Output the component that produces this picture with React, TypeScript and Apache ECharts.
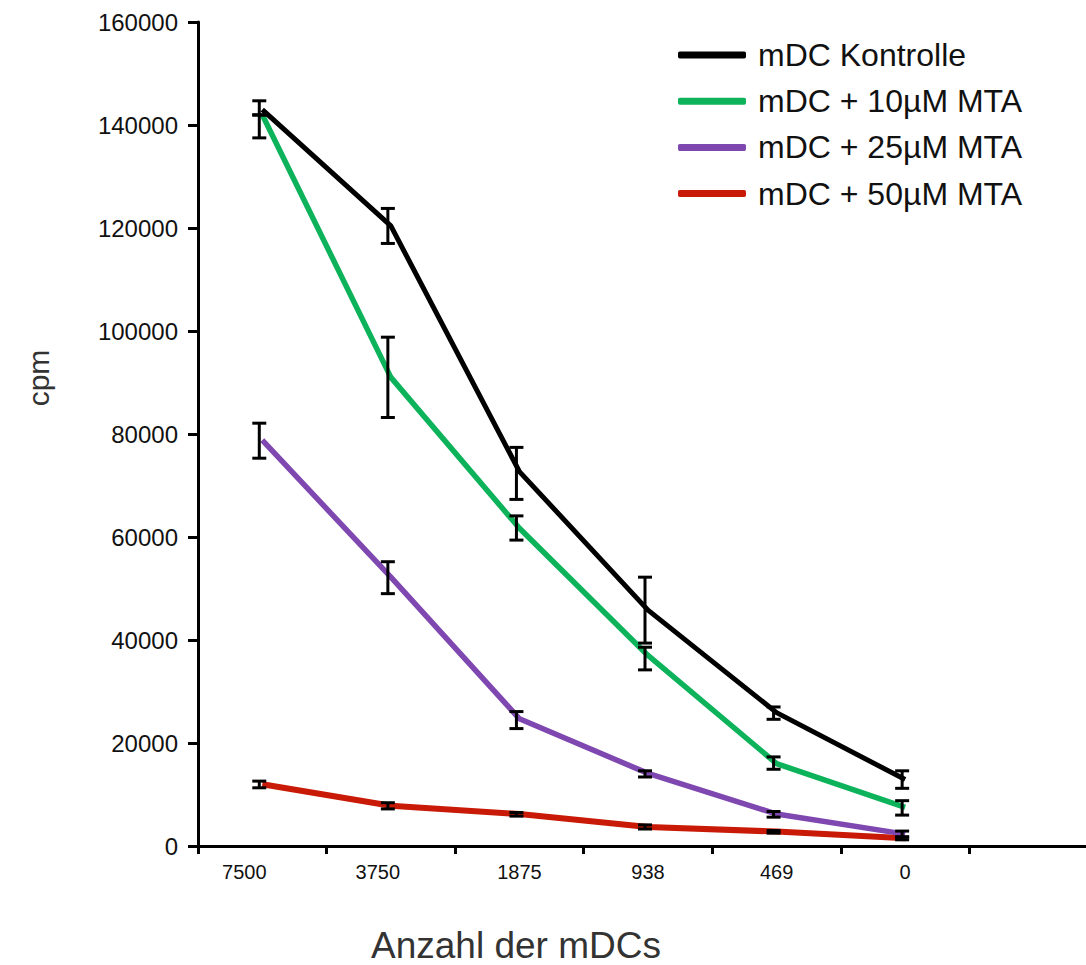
import React, { useEffect, useRef } from "react";
import * as echarts from "echarts";

const categories = ["7500", "3750", "1875", "938", "469", "0", ""];
const seriesNames = ["mDC Kontrolle", "mDC + 10µM MTA", "mDC + 25µM MTA", "mDC + 50µM MTA"];
const seriesColors = ["#000000", "#0db35a", "#7f47b0", "#c81a06"];
const seriesWidths = [5, 5.5, 5.5, 6];

const kontrolle = [143000, 120400, 72700, 45800, 25900, 12900];
const mta10 = [142000, 91000, 61700, 37000, 16000, 7500];
const mta25 = [78800, 52200, 24700, 14100, 6200, 2300];
const mta50 = [12000, 7800, 6200, 3700, 2800, 1500];

const kontrolleLow = [141900, 117000, 67300, 39400, 24600, 11200];
const kontrolleHigh = [144700, 123800, 77400, 52200, 27000, 14600];
const mta10Low = [137500, 83200, 59400, 34200, 14900, 6000];
const mta10High = [142000, 98800, 64100, 38600, 17300, 8800];
const mta25Low = [75300, 49000, 22800, 13400, 5600, 1700];
const mta25High = [82100, 55200, 26100, 14600, 6700, 2900];
const mta50Low = [11300, 7200, 5800, 3300, 2500, 1200];
const mta50High = [12600, 8400, 6500, 4100, 3000, 1800];

const yTicks = [0, 20000, 40000, 60000, 80000, 100000, 120000, 140000, 160000];

const xTitle = "Anzahl der mDCs";
const yTitle = "cpm";

const FONT = "Liberation Sans, Arial, sans-serif";

export default function App() {
  const ref = useRef<HTMLDivElement>(null);
  useEffect(() => {
    if (!ref.current) return;
    const chart = echarts.init(ref.current, null, { renderer: "svg" });
    const values = [kontrolle, mta10, mta25, mta50];
    const lows = [kontrolleLow, mta10Low, mta25Low, mta50Low];
    const highs = [kontrolleHigh, mta10High, mta25High, mta50High];

    const errData: number[][] = [];
    lows.forEach((lo, s) => {
      lo.forEach((l, i) => errData.push([i, l, highs[s][i]]));
    });

    const lineSeries = values.map((v, s) => ({
      name: seriesNames[s],
      type: "line",
      data: v,
      symbol: "none",
      color: seriesColors[s],
      lineStyle: { width: seriesWidths[s], color: seriesColors[s] },
      z: 10 - s,
    }));

    const lblBase = { fontFamily: FONT, fontSize: 20, color: "#111111" };

    chart.setOption({
      animation: false,
      backgroundColor: "#ffffff",
      grid: { left: 198, right: 0, top: 22, bottom: 119 },
      legend: {
        data: seriesNames,
        orient: "vertical",
        left: 678,
        top: 39,
        padding: 0,
        icon: "roundRect",
        itemWidth: 68,
        itemHeight: 7,
        itemGap: 14.2,
        textStyle: {
          fontFamily: FONT,
          fontSize: 32,
          lineHeight: 30,
          color: "#111111",
          padding: [0, 0, 0, 7],
        },
      },
      graphic: [
        {
          type: "text",
          x: 516,
          y: 945,
          style: {
            text: xTitle,
            fontFamily: FONT,
            fontSize: 37,
            fill: "#333333",
            align: "center",
            verticalAlign: "middle",
          },
        },
        {
          type: "text",
          x: 38,
          y: 378,
          rotation: Math.PI / 2,
          style: {
            text: yTitle,
            fontFamily: FONT,
            fontSize: 30,
            fill: "#333333",
            align: "center",
            verticalAlign: "middle",
          },
        },
      ],
      xAxis: {
        type: "category",
        data: categories,
        boundaryGap: true,
        axisLine: { show: true, lineStyle: { color: "#000", width: 3 } },
        axisTick: { show: true, length: 8, lineStyle: { color: "#000", width: 3 } },
        axisLabel: {
          ...lblBase,
          margin: 16,
          formatter: (v: string, i: number) =>
            i === 0 ? `{a|${v}}` : i === 1 ? `{b|${v}}` : `{c|${v}}`,
          rich: {
            a: { ...lblBase, padding: [0, 36, 0, 0] },
            b: { ...lblBase, padding: [0, 26, 0, 0] },
            c: { ...lblBase },
          },
        },
        splitLine: { show: false },
      },
      yAxis: {
        type: "value",
        min: yTicks[0],
        max: yTicks[yTicks.length - 1],
        interval: yTicks[1] - yTicks[0],
        axisLine: { show: true, lineStyle: { color: "#000", width: 3 } },
        axisTick: { show: true, length: 10, lineStyle: { color: "#000", width: 3 } },
        axisLabel: {
          fontFamily: FONT,
          fontSize: 24,
          color: "#111111",
          margin: 20,
          formatter: (v: number) => String(v),
        },
        splitLine: { show: false },
      },
      series: [
        ...lineSeries,
        {
          type: "custom",
          name: "err",
          data: errData,
          z: 20,
          renderItem: (params: any, api: any) => {
            const x = api.value(0);
            const lo = api.coord([x, api.value(1)]);
            const hi = api.coord([x, api.value(2)]);
            const cx = lo[0] - 3;
            const hw = 7;
            const style = { stroke: "#000", lineWidth: 3 };
            return {
              type: "group",
              children: [
                { type: "line", shape: { x1: cx, y1: lo[1], x2: cx, y2: hi[1] }, style },
                { type: "line", shape: { x1: cx - hw, y1: lo[1], x2: cx + hw, y2: lo[1] }, style },
                { type: "line", shape: { x1: cx - hw, y1: hi[1], x2: cx + hw, y2: hi[1] }, style },
              ],
            };
          },
        },
      ],
    });
    return () => {
      chart.dispose();
    };
  }, []);
  return (
    <div
      ref={ref}
      style={{ position: "fixed", left: 0, top: 0, width: 1098, height: "100vh" }}
    />
  );
}
